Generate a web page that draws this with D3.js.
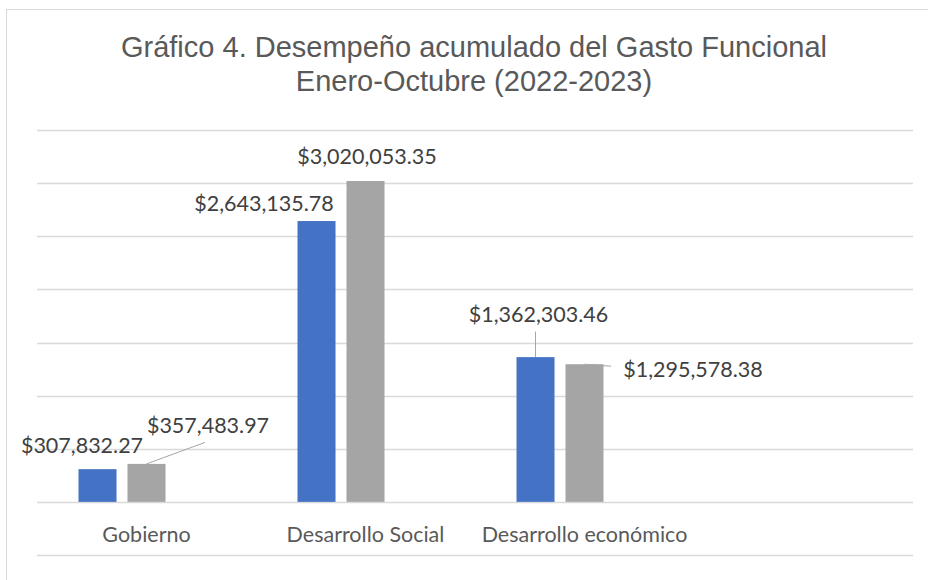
<!DOCTYPE html>
<html>
<head>
<meta charset="utf-8">
<script src="https://cdn.jsdelivr.net/npm/d3@7"></script>
<style>
  body { margin: 0; background: #fff; }
  svg { display: block; }
</style>
</head>
<body>
<svg id="chart" width="928" height="580"></svg>
<script>
// data
const categories = ['Gobierno', 'Desarrollo Social', 'Desarrollo económico', '']
const series = ['2022', '2023']
const values2022 = [307832.27, 2643135.78, 1362303.46, null]
const values2023 = [357483.97, 3020053.35, 1295578.38, null]
const titleLines = ['Gráfico 4. Desempeño acumulado del Gasto Funcional', 'Enero-Octubre (2022-2023)']

// label placement (relative to bar top center), as moved by hand in the original
const labelLayout = {
  '2022': [{dx: -15.5, dy: -16}, {dx: -52.5, dy: -10}, {dx: 3, dy: -35, leader: 'bottom'}],
  '2023': [{dx: 61.5, dy: -31, leader: 'bottom'}, {dx: 1.5, dy: -17}, {dx: 108.5, dy: 13, leader: 'side'}]
}

const colors = {'2022': '#4472C4', '2023': '#A5A5A5'}
const fmt = d3.format('$,.2f')

const svg = d3.select('#chart')
const plot = {left: 37, right: 913, top: 130, bottom: 555}

// chart frame
svg.append('rect')
  .attr('x', 6.5).attr('y', 9.5)
  .attr('width', 940).attr('height', 600)
  .attr('fill', '#fff')
  .attr('stroke', '#D9D9D9')

// title
svg.append('text')
  .attr('x', 474).attr('y', 57)
  .attr('text-anchor', 'middle')
  .attr('font-family', '"Liberation Sans", Arial, sans-serif')
  .attr('font-size', 29)
  .attr('fill', '#595959')
  .selectAll('tspan')
  .data(titleLines)
  .enter()
  .append('tspan')
  .attr('x', 474)
  .attr('dy', (d, i) => i ? 34 : 0)
  .text((d) => d)

// scales
let x = d3.scaleBand().domain(categories).range([plot.left, plot.right])
// three slots per group, the last one is an empty series in the source sheet
let xs = d3.scaleBand().domain([...series, '_'])
  .range([41.5, x.bandwidth() - 41.5])
  .paddingInner(0.224)
let y = d3.scaleLinear().domain([-500000, 3500000]).range([plot.bottom, plot.top])

// gridlines
svg.append('g')
  .selectAll('line')
  .data(d3.range(-500000, 3500001, 500000))
  .enter()
  .append('line')
  .attr('x1', plot.left).attr('x2', plot.right)
  .attr('y1', (d) => Math.round(y(d)) + 0.5)
  .attr('y2', (d) => Math.round(y(d)) + 0.5)
  .attr('stroke', '#D9D9D9')
  .attr('stroke-width', 1.3)

// category labels
svg.append('g')
  .selectAll('text')
  .data(categories)
  .enter()
  .append('text')
  .attr('x', (d) => x(d) + x.bandwidth() / 2)
  .attr('y', 542)
  .attr('text-anchor', 'middle')
  .attr('font-family', 'Lato, "Open Sans", sans-serif')
  .attr('font-size', 21.5)
  .attr('fill', '#595959')
  .text((d) => d)

// bars
let rows = []
series.forEach((s) => {
  let vals = s === '2022' ? values2022 : values2023
  vals.forEach((v, i) => {
    if (v == null) return
    rows.push({s, cat: categories[i], v, lay: labelLayout[s][i]})
  })
})

let y0 = y(0)
svg.append('g')
  .selectAll('rect')
  .data(rows)
  .enter()
  .append('rect')
  .attr('x', (d) => x(d.cat) + xs(d.s))
  .attr('width', xs.bandwidth())
  .attr('y', (d) => y(d.v))
  .attr('height', (d) => y0 - y(d.v))
  .attr('fill', (d) => colors[d.s])

// labels and leader lines
let lg = svg.append('g')
rows.forEach((d) => {
  let bx = x(d.cat) + xs(d.s) + xs.bandwidth() / 2
  let by = y(d.v)
  let lx = bx + d.lay.dx
  let ly = by + d.lay.dy
  let t = lg.append('text')
    .attr('x', lx).attr('y', ly)
    .attr('text-anchor', 'middle')
    .attr('font-family', 'Lato, "Open Sans", sans-serif')
    .attr('font-size', 21.5)
    .attr('fill', '#404040')
    .text(fmt(d.v))

  if (d.lay.leader) {
    let w = t.node().getComputedTextLength()
    let ex, ey
    if (d.lay.leader === 'bottom') {
      ex = lx - 3; ey = ly + 9.5
    } else {
      ex = lx - w / 2 - 12; ey = ly - 11
    }
    lg.append('line')
      .attr('x1', bx).attr('y1', by)
      .attr('x2', ex).attr('y2', ey)
      .attr('stroke', '#A6A6A6')
      .attr('stroke-width', 1)
  }
})
</script>
</body>
</html>
